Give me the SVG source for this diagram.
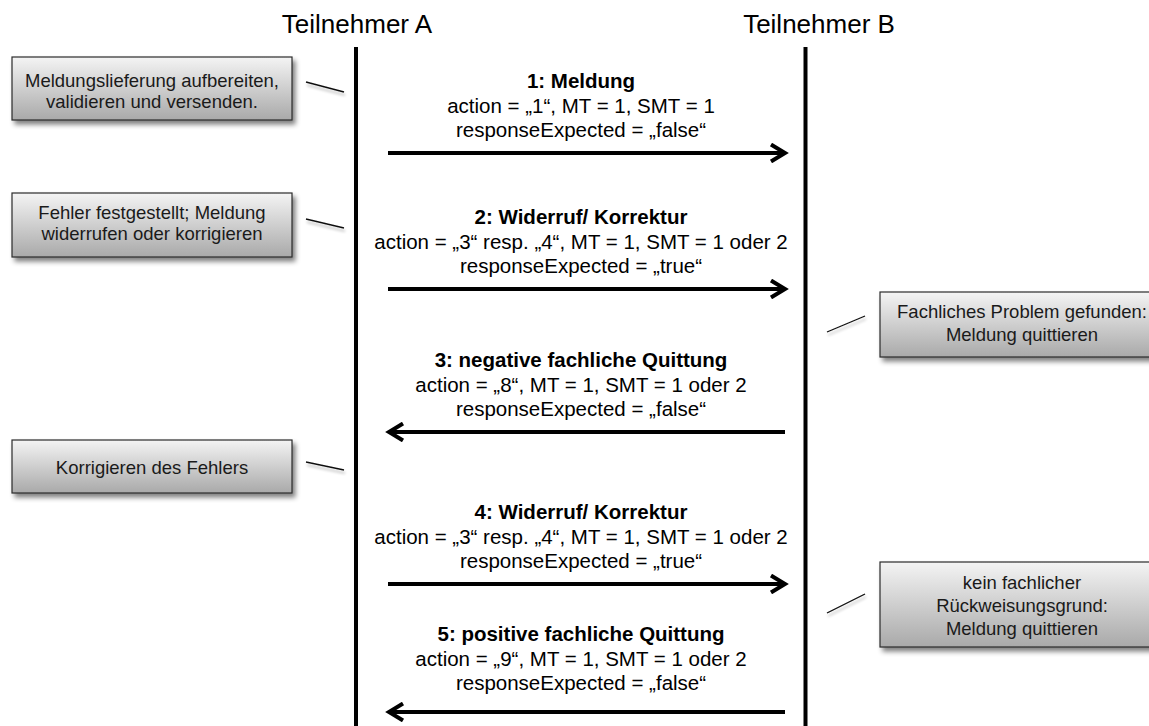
<svg xmlns="http://www.w3.org/2000/svg" width="1149" height="726" viewBox="0 0 1149 726">
  <style>
    text { font-family: "Liberation Sans", Arial, sans-serif; fill: #000; }
    .head { font-size: 26px; text-anchor: middle; }
    .note-text { font-size: 18.5px; text-anchor: middle; fill: #1a1a1a; }
    .msg { font-size: 20.5px; text-anchor: middle; }
    .msg-title { font-size: 20.5px; font-weight: bold; text-anchor: middle; }
    .lifeline { stroke: #000; stroke-width: 4; fill: none; }
    .note { fill: url(#noteFill); stroke: #2b2b2b; stroke-width: 1.2; filter: url(#noteShadow); }
    .link { stroke: #111; stroke-width: 1.3; fill: none; filter: url(#linkShadow); }
    .arrow { stroke: #000; stroke-width: 4; fill: none; marker-end: url(#chevron); }
  </style>
  <defs>
    <linearGradient id="noteFill" x1="0" y1="0" x2="0" y2="1">
      <stop offset="0" stop-color="#f4f4f4"/>
      <stop offset="1" stop-color="#a9a9a9"/>
    </linearGradient>
    <filter id="noteShadow" x="-10%" y="-20%" width="125%" height="150%">
      <feGaussianBlur in="SourceAlpha" stdDeviation="2.5"/>
      <feOffset dx="3" dy="4" result="blur"/>
      <feComponentTransfer><feFuncA type="linear" slope="0.5"/></feComponentTransfer>
      <feMerge><feMergeNode/><feMergeNode in="SourceGraphic"/></feMerge>
    </filter>
    <filter id="linkShadow" x="-20%" y="-100%" width="140%" height="300%">
      <feGaussianBlur in="SourceAlpha" stdDeviation="1.5"/>
      <feOffset dx="1" dy="3"/>
      <feComponentTransfer><feFuncA type="linear" slope="0.3"/></feComponentTransfer>
      <feMerge><feMergeNode/><feMergeNode in="SourceGraphic"/></feMerge>
    </filter>
    <marker id="chevron" viewBox="0 0 20 20" refX="16" refY="10" markerWidth="20" markerHeight="20" markerUnits="userSpaceOnUse" orient="auto">
      <path d="M2,1.5 L16,10 L2,18.5" fill="none" stroke="#000" stroke-width="4" stroke-linejoin="miter"/>
    </marker>
  </defs>

  <!-- participants -->
  <g id="participant-a">
    <text class="head" x="357" y="33">Teilnehmer A</text>
    <line class="lifeline" x1="356" y1="47" x2="356" y2="726"/>
  </g>
  <g id="participant-b">
    <text class="head" x="819" y="33">Teilnehmer B</text>
    <line class="lifeline" x1="805.5" y1="47" x2="805.5" y2="726"/>
  </g>

  <!-- notes -->
  <g id="note-send">
    <rect class="note" x="12" y="57" width="280" height="63"/>
    <text class="note-text" x="152" y="87">Meldungslieferung aufbereiten,</text>
    <text class="note-text" x="152" y="108">validieren und versenden.</text>
  </g>
  <g id="note-error">
    <rect class="note" x="12" y="193" width="280" height="64"/>
    <text class="note-text" x="152" y="219">Fehler festgestellt; Meldung</text>
    <text class="note-text" x="152" y="240">widerrufen oder korrigieren</text>
  </g>
  <g id="note-correct">
    <rect class="note" x="12" y="440" width="280" height="53"/>
    <text class="note-text" x="152" y="474">Korrigieren des Fehlers</text>
  </g>
  <g id="note-problem">
    <rect class="note" x="880" y="292" width="284" height="65"/>
    <text class="note-text" x="1022" y="318">Fachliches Problem gefunden:</text>
    <text class="note-text" x="1022" y="341">Meldung quittieren</text>
  </g>
  <g id="note-ok">
    <rect class="note" x="880" y="562" width="284" height="85"/>
    <text class="note-text" x="1022" y="589">kein fachlicher</text>
    <text class="note-text" x="1022" y="612">Rückweisungsgrund:</text>
    <text class="note-text" x="1022" y="635">Meldung quittieren</text>
  </g>

  <!-- messages and note links -->
  <g id="connectors">
    <line class="link" x1="306" y1="82" x2="344" y2="92"/>
    <line class="link" x1="306" y1="219" x2="344" y2="228"/>
    <line class="link" x1="306" y1="462" x2="344" y2="470"/>
    <line class="link" x1="827" y1="332" x2="865" y2="316"/>
    <line class="link" x1="827" y1="613" x2="865" y2="594"/>

    <g id="msg-1">
      <text class="msg-title" x="581" y="88">1: Meldung</text>
      <text class="msg" x="581" y="113">action = „1“, MT = 1, SMT = 1</text>
      <text class="msg" x="581" y="137">responseExpected = „false“</text>
      <line class="arrow" x1="388" y1="153" x2="785" y2="153"/>
    </g>
    <g id="msg-2">
      <text class="msg-title" x="581" y="224">2: Widerruf/ Korrektur</text>
      <text class="msg" x="581" y="249">action = „3“ resp. „4“, MT = 1, SMT = 1 oder 2</text>
      <text class="msg" x="581" y="273">responseExpected = „true“</text>
      <line class="arrow" x1="388" y1="289" x2="785" y2="289"/>
    </g>
    <g id="msg-3">
      <text class="msg-title" x="581" y="367">3: negative fachliche Quittung</text>
      <text class="msg" x="581" y="392">action = „8“, MT = 1, SMT = 1 oder 2</text>
      <text class="msg" x="581" y="416">responseExpected = „false“</text>
      <line class="arrow" x1="785" y1="432" x2="389" y2="432"/>
    </g>
    <g id="msg-4">
      <text class="msg-title" x="581" y="519">4: Widerruf/ Korrektur</text>
      <text class="msg" x="581" y="544">action = „3“ resp. „4“, MT = 1, SMT = 1 oder 2</text>
      <text class="msg" x="581" y="568">responseExpected = „true“</text>
      <line class="arrow" x1="388" y1="584" x2="785" y2="584"/>
    </g>
    <g id="msg-5">
      <text class="msg-title" x="581" y="641">5: positive fachliche Quittung</text>
      <text class="msg" x="581" y="666">action = „9“, MT = 1, SMT = 1 oder 2</text>
      <text class="msg" x="581" y="690">responseExpected = „false“</text>
      <line class="arrow" x1="785" y1="712" x2="389" y2="712"/>
    </g>
  </g>
</svg>
